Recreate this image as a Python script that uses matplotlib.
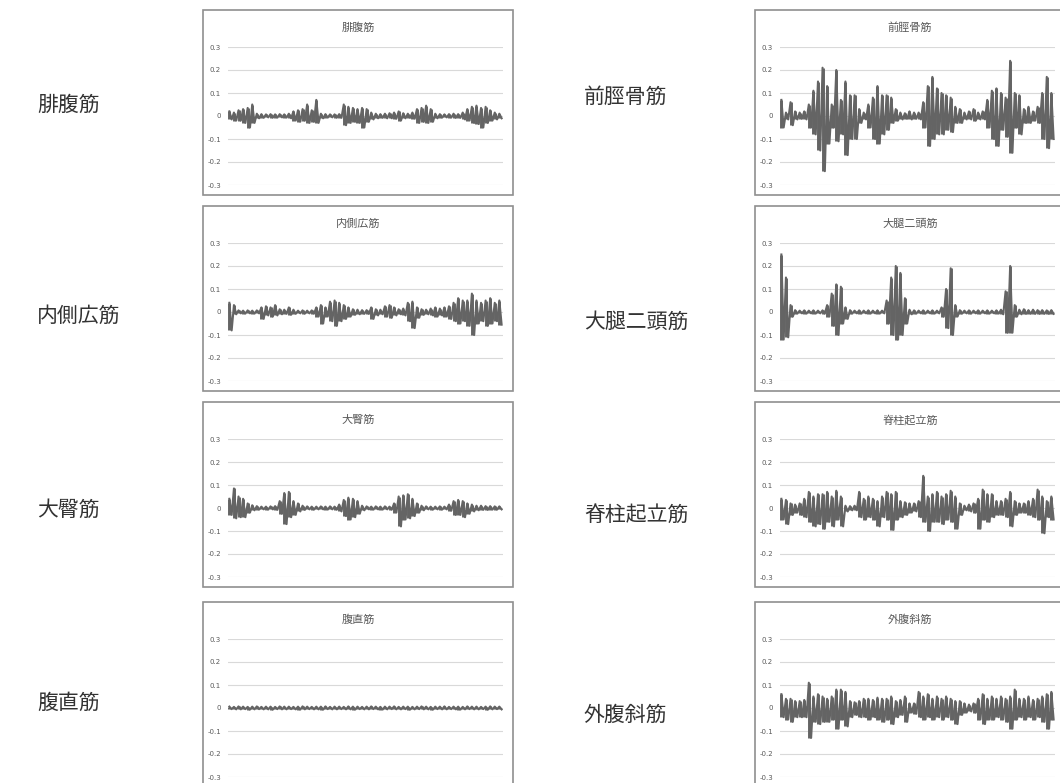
import numpy as np
import matplotlib.pyplot as plt
from matplotlib.patches import Rectangle

plt.rcParams['font.family'] = ['Noto Sans CJK JP', 'DejaVu Sans']

# -----------------------------
# DATA: per-bin max / min of each EMG trace (60 bins across the record)
# -----------------------------
gastro_hi = [0.02, 0.015, 0.025, 0.03, 0.035, 0.05, 0.01, 0.008, 0.007, 0.008,
             0.007, 0.008, 0.007, 0.01, 0.02, 0.025, 0.03, 0.05, 0.025, 0.07,
             0.01, 0.008, 0.007, 0.007, 0.008, 0.05, 0.04, 0.035, 0.03, 0.035,
             0.03, 0.015, 0.01, 0.008, 0.01, 0.012, 0.015, 0.02, 0.012, 0.01,
             0.015, 0.03, 0.035, 0.045, 0.03, 0.01, 0.008, 0.007, 0.008, 0.01,
             0.008, 0.015, 0.03, 0.04, 0.045, 0.035, 0.04, 0.025, 0.015, 0.01]
gastro_lo = [-0.015, -0.02, -0.02, -0.03, -0.05, -0.03, -0.01, -0.008, -0.006, -0.007,
             -0.007, -0.006, -0.007, -0.01, -0.02, -0.025, -0.02, -0.03, -0.025, -0.03,
             -0.01, -0.007, -0.006, -0.007, -0.008, -0.04, -0.03, -0.025, -0.03, -0.05,
             -0.025, -0.015, -0.01, -0.008, -0.01, -0.01, -0.012, -0.02, -0.01, -0.008,
             -0.012, -0.03, -0.025, -0.03, -0.025, -0.01, -0.007, -0.006, -0.007, -0.008,
             -0.008, -0.015, -0.02, -0.03, -0.035, -0.05, -0.03, -0.02, -0.015, -0.01]

vastus_hi = [0.04, 0.03, 0.007, 0.006, 0.007, 0.006, 0.007, 0.02, 0.025, 0.02,
             0.03, 0.012, 0.01, 0.02, 0.01, 0.006, 0.007, 0.006, 0.007, 0.02,
             0.03, 0.02, 0.045, 0.05, 0.04, 0.03, 0.02, 0.012, 0.01, 0.008,
             0.008, 0.02, 0.012, 0.01, 0.025, 0.03, 0.02, 0.012, 0.015, 0.04,
             0.045, 0.02, 0.012, 0.01, 0.015, 0.02, 0.015, 0.02, 0.025, 0.04,
             0.06, 0.05, 0.05, 0.08, 0.05, 0.04, 0.05, 0.06, 0.04, 0.05]
vastus_lo = [-0.08, -0.01, -0.006, -0.007, -0.006, -0.007, -0.006, -0.03, -0.015, -0.02,
             -0.015, -0.01, -0.008, -0.012, -0.008, -0.006, -0.007, -0.006, -0.007, -0.02,
             -0.05, -0.02, -0.04, -0.06, -0.04, -0.03, -0.02, -0.012, -0.01, -0.008,
             -0.008, -0.03, -0.015, -0.01, -0.02, -0.025, -0.015, -0.01, -0.015, -0.04,
             -0.07, -0.025, -0.012, -0.01, -0.015, -0.02, -0.015, -0.02, -0.03, -0.04,
             -0.05, -0.04, -0.06, -0.1, -0.05, -0.04, -0.06, -0.05, -0.04, -0.055]

gmax_hi = [0.04, 0.085, 0.05, 0.04, 0.02, 0.012, 0.008, 0.006, 0.006, 0.007,
           0.008, 0.03, 0.065, 0.07, 0.03, 0.02, 0.01, 0.007, 0.006, 0.006,
           0.007, 0.006, 0.007, 0.006, 0.015, 0.035, 0.045, 0.04, 0.03, 0.01,
           0.007, 0.006, 0.007, 0.006, 0.007, 0.006, 0.02, 0.05, 0.055, 0.06,
           0.04, 0.02, 0.01, 0.007, 0.006, 0.006, 0.007, 0.006, 0.015, 0.03,
           0.035, 0.03, 0.02, 0.015, 0.01, 0.01, 0.008, 0.008, 0.007, 0.007]
gmax_lo = [-0.03, -0.045, -0.04, -0.04, -0.02, -0.01, -0.007, -0.006, -0.007, -0.006,
           -0.008, -0.025, -0.07, -0.04, -0.03, -0.015, -0.008, -0.006, -0.007, -0.006,
           -0.006, -0.007, -0.006, -0.007, -0.015, -0.035, -0.05, -0.04, -0.025, -0.01,
           -0.006, -0.007, -0.006, -0.007, -0.006, -0.007, -0.02, -0.08, -0.05, -0.045,
           -0.035, -0.02, -0.01, -0.006, -0.007, -0.006, -0.007, -0.006, -0.012, -0.03,
           -0.03, -0.04, -0.025, -0.015, -0.01, -0.008, -0.008, -0.007, -0.007, -0.006]

rectus_hi = [0.006, 0.005, 0.007, 0.006, 0.005, 0.006, 0.007, 0.005, 0.006, 0.006,
             0.005, 0.007, 0.006, 0.006, 0.005, 0.006, 0.007, 0.006, 0.005, 0.006,
             0.006, 0.007, 0.005, 0.006, 0.006, 0.005, 0.007, 0.006, 0.006, 0.005,
             0.006, 0.007, 0.006, 0.005, 0.006, 0.006, 0.007, 0.005, 0.006, 0.006,
             0.005, 0.006, 0.007, 0.006, 0.005, 0.006, 0.006, 0.007, 0.005, 0.006,
             0.006, 0.005, 0.007, 0.006, 0.006, 0.005, 0.006, 0.007, 0.006, 0.006]
rectus_lo = [-0.005, -0.006, -0.006, -0.005, -0.007, -0.006, -0.005, -0.006, -0.006, -0.007,
             -0.005, -0.006, -0.006, -0.005, -0.006, -0.007, -0.006, -0.005, -0.006, -0.006,
             -0.007, -0.005, -0.006, -0.006, -0.005, -0.006, -0.006, -0.007, -0.005, -0.006,
             -0.006, -0.005, -0.006, -0.007, -0.006, -0.005, -0.006, -0.006, -0.005, -0.007,
             -0.006, -0.005, -0.006, -0.006, -0.007, -0.005, -0.006, -0.006, -0.005, -0.006,
             -0.007, -0.006, -0.005, -0.006, -0.006, -0.005, -0.007, -0.006, -0.005, -0.006]

tib_hi = [0.07, 0.015, 0.06, 0.02, 0.015, 0.02, 0.05, 0.11, 0.15, 0.21,
          0.13, 0.05, 0.2, 0.07, 0.15, 0.09, 0.09, 0.03, 0.015, 0.05,
          0.08, 0.13, 0.09, 0.09, 0.08, 0.03, 0.015, 0.012, 0.02, 0.015,
          0.015, 0.06, 0.13, 0.17, 0.12, 0.1, 0.09, 0.08, 0.04, 0.03,
          0.015, 0.02, 0.03, 0.015, 0.02, 0.07, 0.11, 0.12, 0.1, 0.08,
          0.24, 0.1, 0.09, 0.03, 0.04, 0.02, 0.04, 0.1, 0.17, 0.1]
tib_lo = [-0.05, -0.015, -0.04, -0.015, -0.012, -0.015, -0.05, -0.08, -0.15, -0.24,
          -0.12, -0.05, -0.11, -0.08, -0.17, -0.1, -0.1, -0.03, -0.015, -0.05,
          -0.1, -0.12, -0.08, -0.06, -0.03, -0.02, -0.015, -0.012, -0.015, -0.012,
          -0.015, -0.05, -0.13, -0.1, -0.08, -0.08, -0.06, -0.07, -0.03, -0.03,
          -0.015, -0.015, -0.02, -0.015, -0.015, -0.05, -0.1, -0.13, -0.06, -0.09,
          -0.16, -0.05, -0.08, -0.03, -0.03, -0.02, -0.03, -0.1, -0.14, -0.1]

bf_hi = [0.25, 0.15, 0.03, 0.008, 0.006, 0.007, 0.006, 0.007, 0.006, 0.007,
         0.03, 0.08, 0.12, 0.11, 0.02, 0.008, 0.006, 0.007, 0.006, 0.007,
         0.006, 0.007, 0.006, 0.05, 0.15, 0.2, 0.17, 0.06, 0.01, 0.007,
         0.006, 0.007, 0.006, 0.007, 0.006, 0.02, 0.1, 0.19, 0.03, 0.008,
         0.006, 0.007, 0.006, 0.007, 0.006, 0.007, 0.006, 0.007, 0.01, 0.09,
         0.2, 0.03, 0.01, 0.012, 0.008, 0.01, 0.008, 0.008, 0.007, 0.008]
bf_lo = [-0.12, -0.11, -0.02, -0.007, -0.006, -0.007, -0.006, -0.007, -0.006, -0.007,
         -0.02, -0.06, -0.1, -0.05, -0.03, -0.007, -0.006, -0.007, -0.006, -0.007,
         -0.006, -0.007, -0.006, -0.05, -0.1, -0.12, -0.1, -0.05, -0.01, -0.007,
         -0.006, -0.007, -0.006, -0.007, -0.006, -0.02, -0.07, -0.1, -0.02, -0.007,
         -0.006, -0.007, -0.006, -0.007, -0.006, -0.007, -0.006, -0.007, -0.01, -0.09,
         -0.09, -0.02, -0.01, -0.008, -0.008, -0.008, -0.008, -0.008, -0.008, -0.008]

es_hi = [0.04, 0.035, 0.02, 0.015, 0.02, 0.04, 0.07, 0.05, 0.06, 0.06,
         0.07, 0.05, 0.075, 0.05, 0.01, 0.008, 0.01, 0.07, 0.04, 0.05,
         0.04, 0.03, 0.05, 0.07, 0.06, 0.07, 0.03, 0.025, 0.02, 0.02,
         0.03, 0.14, 0.05, 0.06, 0.07, 0.05, 0.06, 0.075, 0.05, 0.02,
         0.01, 0.015, 0.02, 0.04, 0.08, 0.06, 0.06, 0.03, 0.03, 0.04,
         0.07, 0.03, 0.02, 0.02, 0.03, 0.04, 0.08, 0.05, 0.03, 0.05]
es_lo = [-0.05, -0.07, -0.03, -0.02, -0.03, -0.04, -0.06, -0.08, -0.07, -0.09,
         -0.06, -0.08, -0.05, -0.08, -0.015, -0.01, -0.01, -0.04, -0.05, -0.04,
         -0.05, -0.08, -0.04, -0.05, -0.095, -0.05, -0.04, -0.03, -0.02, -0.015,
         -0.04, -0.06, -0.1, -0.06, -0.06, -0.07, -0.05, -0.06, -0.09, -0.03,
         -0.01, -0.015, -0.02, -0.09, -0.05, -0.06, -0.04, -0.03, -0.03, -0.04,
         -0.08, -0.03, -0.02, -0.02, -0.03, -0.04, -0.05, -0.11, -0.04, -0.05]

eo_hi = [0.06, 0.04, 0.04, 0.03, 0.03, 0.035, 0.11, 0.05, 0.06, 0.05,
         0.04, 0.05, 0.08, 0.08, 0.07, 0.03, 0.025, 0.03, 0.04, 0.04,
         0.035, 0.045, 0.04, 0.04, 0.05, 0.03, 0.035, 0.05, 0.02, 0.02,
         0.07, 0.05, 0.06, 0.04, 0.05, 0.04, 0.05, 0.04, 0.03, 0.03,
         0.02, 0.015, 0.02, 0.04, 0.06, 0.04, 0.05, 0.04, 0.05, 0.04,
         0.05, 0.08, 0.04, 0.04, 0.05, 0.035, 0.04, 0.05, 0.06, 0.07]
eo_lo = [-0.04, -0.05, -0.06, -0.04, -0.04, -0.04, -0.13, -0.06, -0.07, -0.06,
         -0.06, -0.05, -0.09, -0.05, -0.08, -0.04, -0.03, -0.04, -0.04, -0.05,
         -0.04, -0.05, -0.06, -0.05, -0.07, -0.04, -0.03, -0.06, -0.02, -0.025,
         -0.04, -0.05, -0.04, -0.05, -0.04, -0.05, -0.04, -0.05, -0.07, -0.03,
         -0.02, -0.015, -0.02, -0.05, -0.07, -0.05, -0.05, -0.04, -0.05, -0.06,
         -0.09, -0.05, -0.04, -0.05, -0.04, -0.05, -0.04, -0.06, -0.09, -0.05]

left_names = ['腓腹筋', '内側広筋', '大臀筋', '腹直筋']
right_names = ['前脛骨筋', '大腿二頭筋', '脊柱起立筋', '外腹斜筋']
left_series = [(gastro_hi, gastro_lo), (vastus_hi, vastus_lo), (gmax_hi, gmax_lo), (rectus_hi, rectus_lo)]
right_series = [(tib_hi, tib_lo), (bf_hi, bf_lo), (es_hi, es_lo), (eo_hi, eo_lo)]

yticks = [-0.3, -0.2, -0.1, 0, 0.1, 0.2, 0.3]
ytick_labels = ['-0.3', '-0.2', '-0.1', '0', '0.1', '0.2', '0.3']

# -----------------------------
# LAYOUT (pixel positions of each chart box)
# -----------------------------
W, H = 1060, 783
row_tops = [10, 206, 402, 602]
col_lefts = [203, 755]
side_label_x = [37, 584]
left_label_y = [105, 316, 510, 703]
right_label_y = [97, 322, 515, 715]
trace_color = '#646464'

fig = plt.figure(figsize=(W / 100, H / 100), dpi=100)
fig.patch.set_facecolor('white')


def draw_panel(L, T, title, hi, lo):
    # chart-area border
    fig.add_artist(Rectangle((L / W, 1 - (T + 185) / H), 310 / W, 185 / H,
                             transform=fig.transFigure, facecolor='white',
                             edgecolor='#8f8f8f', linewidth=1.2, zorder=0))
    ax = fig.add_axes([(L + 25) / W, 1 - (T + 175) / H, 275 / W, 138 / H])
    n = len(hi)
    x = np.arange(n)
    # min/max strokes per bin, joined by the sample-to-sample trace
    ax.vlines(x, lo, hi, color=trace_color, linewidth=2.1)
    xx = np.column_stack([x, x + 0.5]).ravel()
    yy = np.column_stack([hi, lo]).ravel()
    ax.plot(xx, yy, color=trace_color, linewidth=1.5)
    ax.set_xlim(-0.3, n - 0.2)
    ax.set_ylim(-0.3, 0.3)
    ax.set_yticks(yticks)
    ax.set_yticklabels(ytick_labels, fontsize=5, color='#595959', family='DejaVu Sans')
    ax.set_xticks([])
    ax.tick_params(axis='y', length=0, pad=5)
    ax.yaxis.grid(True, color='#d9d9d9', linewidth=0.8)
    ax.set_axisbelow(True)
    for s in ax.spines.values():
        s.set_visible(False)
    ax.patch.set_alpha(0)
    fig.text((L + 155) / W, 1 - (T + 18) / H, title, ha='center', va='center',
             fontsize=8, color='#595959')


for r in range(4):
    draw_panel(col_lefts[0], row_tops[r], left_names[r], *left_series[r])
    draw_panel(col_lefts[1], row_tops[r], right_names[r], *right_series[r])
    fig.text(side_label_x[0] / W, 1 - left_label_y[r] / H, left_names[r],
             ha='left', va='center', fontsize=15, color='#333333')
    fig.text(side_label_x[1] / W, 1 - right_label_y[r] / H, right_names[r],
             ha='left', va='center', fontsize=15, color='#333333')

fig.savefig('out.png', dpi=100)
